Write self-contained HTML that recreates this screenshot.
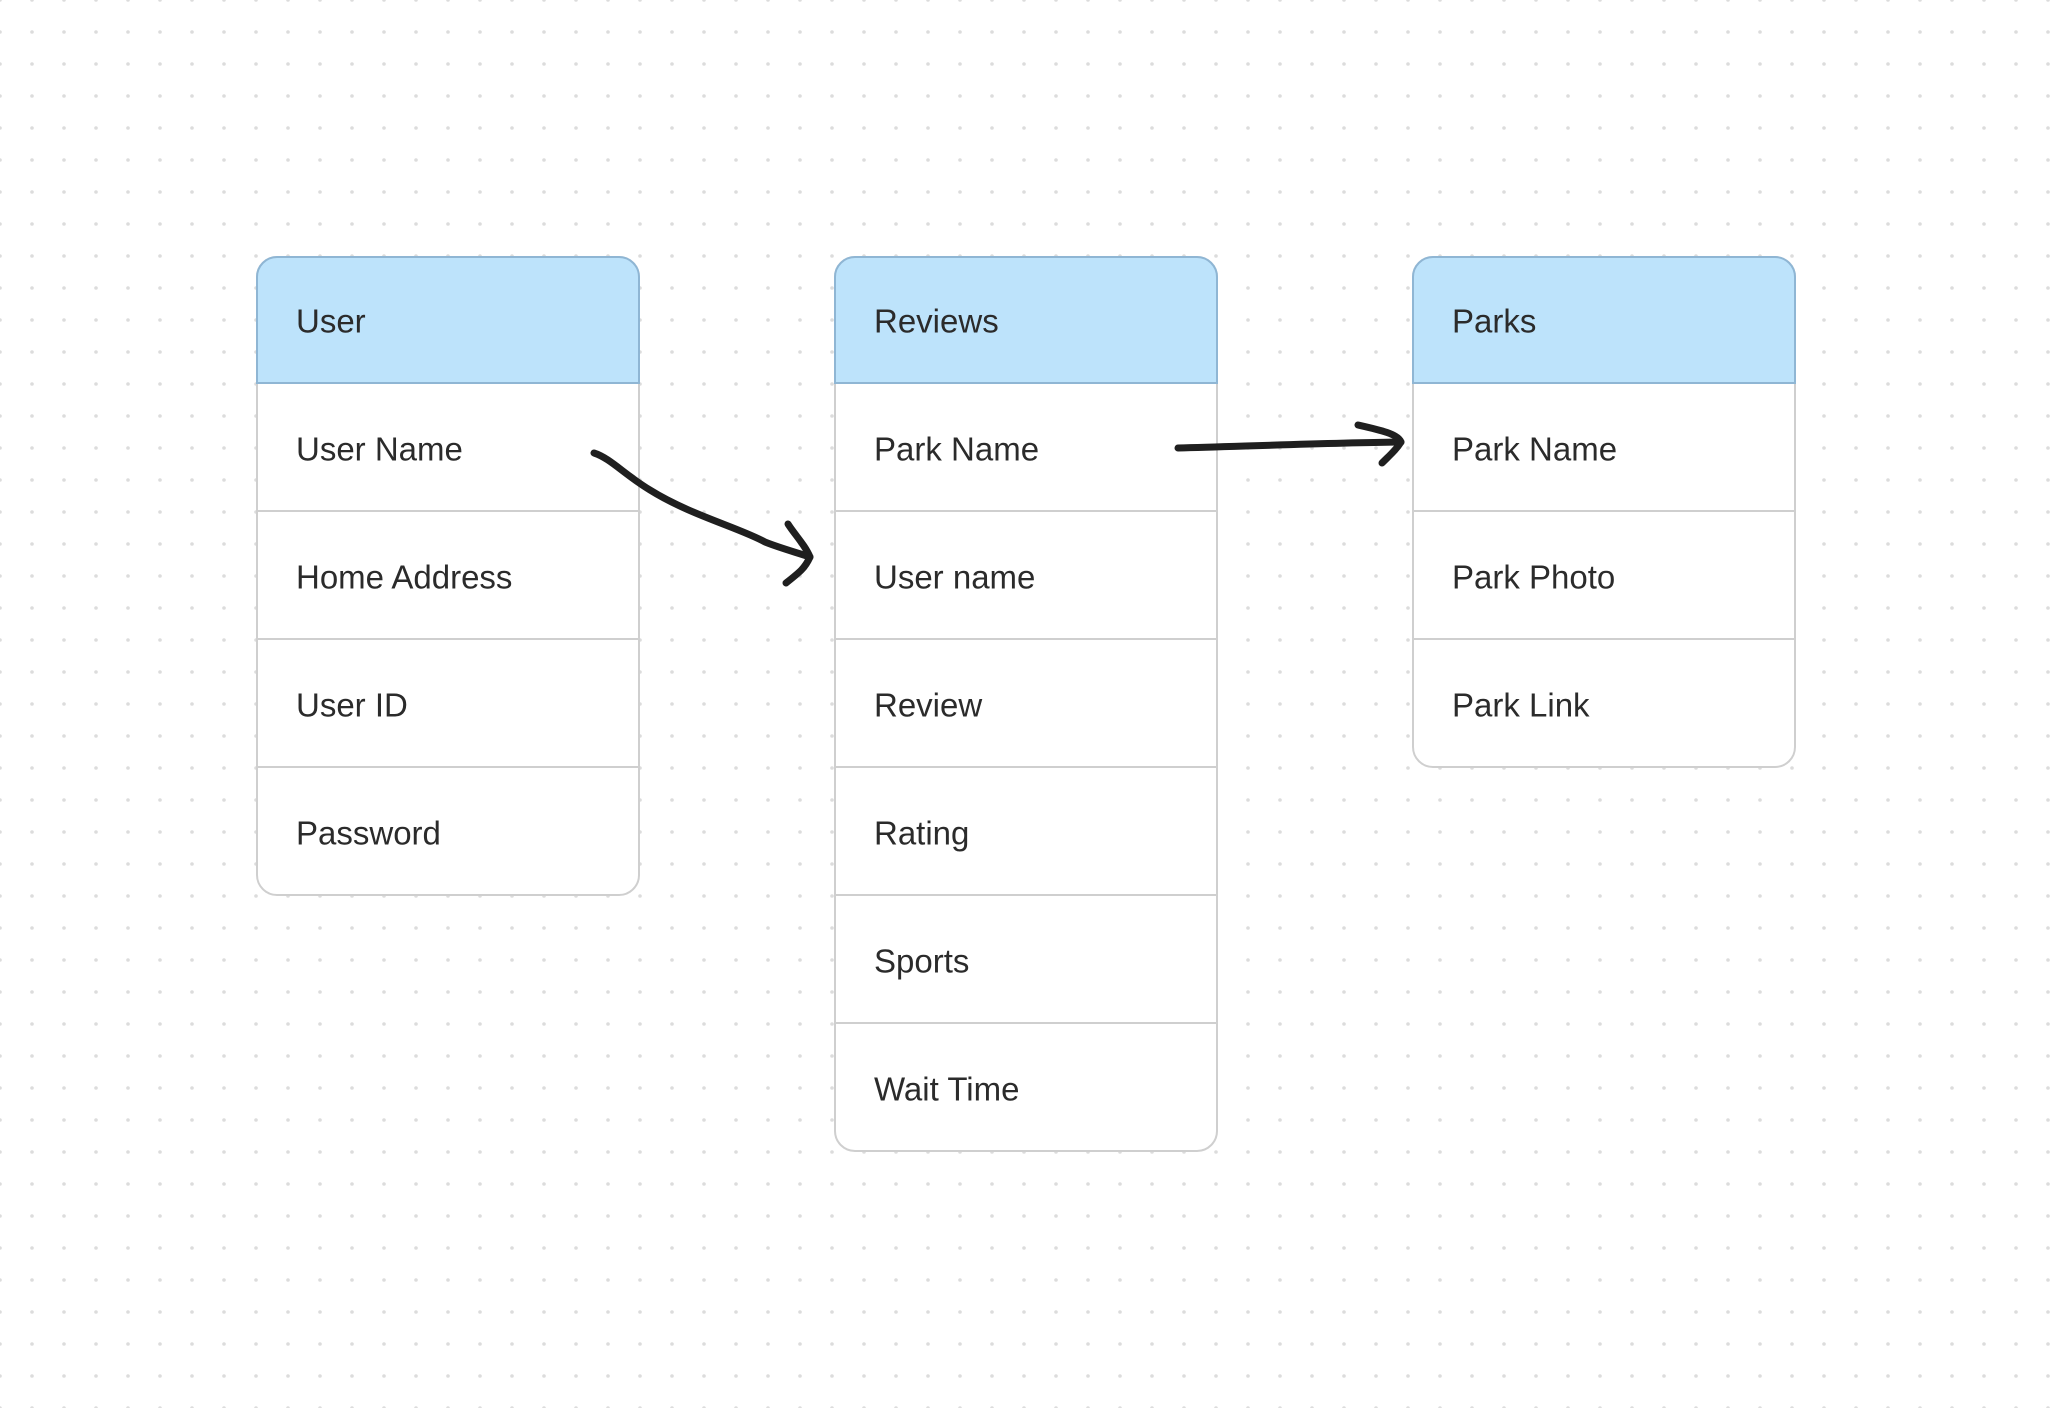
<!DOCTYPE html>
<html><head><meta charset="utf-8"><style>
html,body{margin:0;padding:0;background:#fff;}
svg{display:block;}
text{font-family:"Liberation Sans",sans-serif;font-size:33px;fill:#2b2b2b;dominant-baseline:central;}
</style></head><body>
<svg width="2052" height="1408" viewBox="0 0 2052 1408" xmlns="http://www.w3.org/2000/svg">
<defs>
<pattern id="dots" x="0" y="0" width="32" height="32" patternUnits="userSpaceOnUse">
<circle cx="32" cy="32" r="1.8" fill="#dcdcdc"/><circle cx="0" cy="0" r="1.8" fill="#dcdcdc"/><circle cx="32" cy="0" r="1.8" fill="#dcdcdc"/><circle cx="0" cy="32" r="1.8" fill="#dcdcdc"/>
</pattern>
</defs>
<rect width="2052" height="1408" fill="#fff"/>
<rect width="2052" height="1408" fill="url(#dots)"/>

<g>
<rect x="257" y="257" width="382" height="638" rx="20" fill="#fff" stroke="#cfcfcf" stroke-width="2"/>
<path d="M257,383 V277 a20,20 0 0 1 20,-20 H619 a20,20 0 0 1 20,20 V383 Z" fill="#bde3fb" stroke="#8fb6d4" stroke-width="2"/>
<line x1="257" y1="511" x2="639" y2="511" stroke="#cfcfcf" stroke-width="2"/>
<line x1="257" y1="639" x2="639" y2="639" stroke="#cfcfcf" stroke-width="2"/>
<line x1="257" y1="767" x2="639" y2="767" stroke="#cfcfcf" stroke-width="2"/>
<text x="296" y="321">User</text>
<text x="296" y="449">User Name</text>
<text x="296" y="577">Home Address</text>
<text x="296" y="705">User ID</text>
<text x="296" y="833">Password</text>
</g>

<g>
<rect x="835" y="257" width="382" height="894" rx="20" fill="#fff" stroke="#cfcfcf" stroke-width="2"/>
<path d="M835,383 V277 a20,20 0 0 1 20,-20 H1197 a20,20 0 0 1 20,20 V383 Z" fill="#bde3fb" stroke="#8fb6d4" stroke-width="2"/>
<line x1="835" y1="511" x2="1217" y2="511" stroke="#cfcfcf" stroke-width="2"/>
<line x1="835" y1="639" x2="1217" y2="639" stroke="#cfcfcf" stroke-width="2"/>
<line x1="835" y1="767" x2="1217" y2="767" stroke="#cfcfcf" stroke-width="2"/>
<line x1="835" y1="895" x2="1217" y2="895" stroke="#cfcfcf" stroke-width="2"/>
<line x1="835" y1="1023" x2="1217" y2="1023" stroke="#cfcfcf" stroke-width="2"/>
<text x="874" y="321">Reviews</text>
<text x="874" y="449">Park Name</text>
<text x="874" y="577">User name</text>
<text x="874" y="705">Review</text>
<text x="874" y="833">Rating</text>
<text x="874" y="961">Sports</text>
<text x="874" y="1089">Wait Time</text>
</g>

<g>
<rect x="1413" y="257" width="382" height="510" rx="20" fill="#fff" stroke="#cfcfcf" stroke-width="2"/>
<path d="M1413,383 V277 a20,20 0 0 1 20,-20 H1775 a20,20 0 0 1 20,20 V383 Z" fill="#bde3fb" stroke="#8fb6d4" stroke-width="2"/>
<line x1="1413" y1="511" x2="1795" y2="511" stroke="#cfcfcf" stroke-width="2"/>
<line x1="1413" y1="639" x2="1795" y2="639" stroke="#cfcfcf" stroke-width="2"/>
<text x="1452" y="321">Parks</text>
<text x="1452" y="449">Park Name</text>
<text x="1452" y="577">Park Photo</text>
<text x="1452" y="705">Park Link</text>
</g>

<g fill="none" stroke="#1f1f1f" stroke-width="7" stroke-linecap="round" stroke-linejoin="round">
<path d="M594,453 C610,458 625,475 650,490 C690,515 740,528 765,542 C780,548 795,552 810,557"/>
<path d="M788,524 C795,535 805,545 810,557 C805,568 800,572 786,583"/>
<path d="M1178,448 C1250,446 1330,443 1401,442"/>
<path d="M1358,425 C1380,430 1398,434 1401,442 C1396,450 1390,455 1382,463"/>
</g>
</svg>
</body></html>
